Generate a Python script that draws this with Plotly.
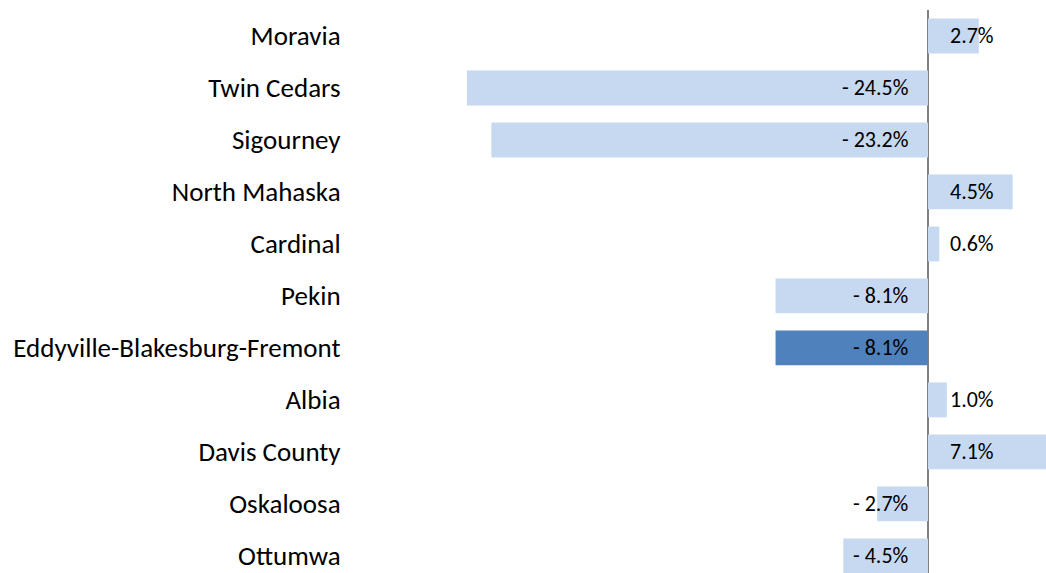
import plotly.graph_objects as go

districts = ["Moravia", "Twin Cedars", "Sigourney", "North Mahaska", "Cardinal", "Pekin",
             "Eddyville-Blakesburg-Fremont", "Albia", "Davis County", "Oskaloosa", "Ottumwa"]
change_pct = [2.7, -24.5, -23.2, 4.5, 0.6, -8.1, -8.1, 1.0, 7.1, -2.7, -4.5]
highlight = "Eddyville-Blakesburg-Fremont"

LIGHT = "#C6D9F1"
DARK = "#4F81BD"
FONT = "Calibri, Carlito, Lato, sans-serif"

colors = [DARK if d == highlight else LIGHT for d in districts]
idx = list(range(len(districts)))

fig = go.Figure()
fig.add_trace(go.Bar(
    x=change_pct, y=idx, orientation="h",
    marker=dict(color=colors, line=dict(width=0)),
    width=0.67, hoverinfo="skip",
))

def fmt(v):
    return f"- {abs(v):.1f}%" if v < 0 else f"{v:.1f}%"

for i, v in zip(idx, change_pct):
    fig.add_annotation(
        x=0, y=i, text=fmt(v), showarrow=False,
        xanchor="right", yanchor="middle",
        xshift=68 if v >= 0 else -17,
        font=dict(family=FONT, size=22, color="#000000"),
    )

fig.update_layout(
    width=1046, height=573,
    margin=dict(l=360, r=0, t=10, b=0),
    paper_bgcolor="white", plot_bgcolor="white",
    showlegend=False,
    xaxis=dict(range=[-30.18, 6.27], showgrid=False, zeroline=True,
               zerolinecolor="#808080", zerolinewidth=2, showticklabels=False,
               ticks=""),
    yaxis=dict(range=[10.33, -0.5], tickmode="array", tickvals=idx, ticktext=districts,
               showgrid=False, zeroline=False, ticks="outside", ticklen=13,
               tickcolor="rgba(0,0,0,0)",
               tickfont=dict(family=FONT, size=27, color="#000000")),
)

fig.write_html("out.html", config={"displayModeBar": False},
               post_script="document.body.style.margin='0';document.body.style.overflow='hidden';")
